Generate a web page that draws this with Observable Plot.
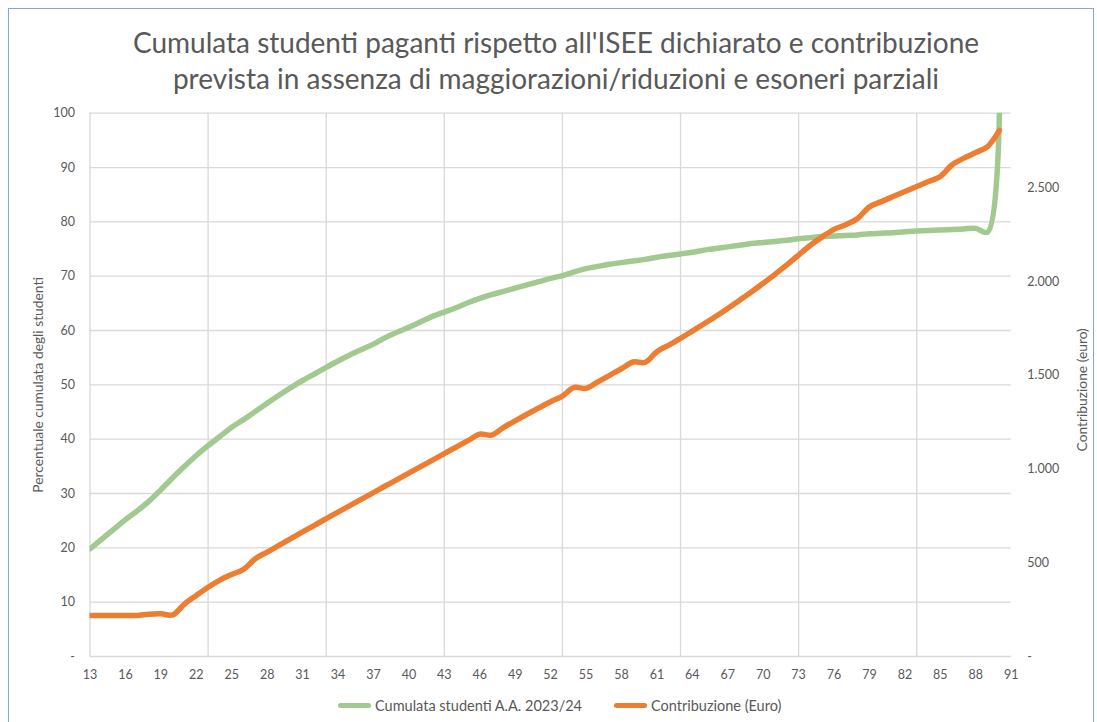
<!DOCTYPE html>
<html>
<head>
<meta charset="utf-8">
<script src="https://cdn.jsdelivr.net/npm/d3@7"></script>
<script src="https://cdn.jsdelivr.net/npm/@observablehq/plot@0.6"></script>
<style>
  html, body { margin: 0; padding: 0; background: #fff; }
  #wrap { position: relative; width: 1097px; height: 722px; overflow: hidden; font-family: Lato, "Open Sans", sans-serif; }
  #border { position: absolute; left: 8px; top: 8px; width: 1086px; height: 730px; border: 1px solid #7fa8dc; box-sizing: border-box; }
  #title { position: absolute; left: 0; width: 1112px; top: 24px; text-align: center; font-size: 28px; line-height: 36px; color: #595959; }
  #chart { position: absolute; left: 0; top: 0; }
  .leg { position: absolute; top: 695px; font-size: 14.5px; color: #595959; display: flex; align-items: center; height: 20px; }
  .sw { display: inline-block; width: 33px; height: 5px; border-radius: 3px; margin-right: 4px; }
</style>
</head>
<body>
<div id="wrap">
  <div id="border"></div>
  <div id="title">Cumulata studenti paganti rispetto all'ISEE dichiarato e contribuzione<br>prevista in assenza di maggiorazioni/riduzioni e esoneri parziali</div>
  <div id="chart"></div>
  <div class="leg" style="left:338px"><span class="sw" style="background:#a2c98f"></span>Cumulata studenti A.A. 2023/24</div>
  <div class="leg" style="left:614px"><span class="sw" style="background:#ed7d31"></span>Contribuzione (Euro)</div>
</div>
<script>
// ISEE categories (thousands of euro)
const isee = [13,14,15,16,17,18,19,20,21,22,23,24,25,26,27,28,29,30,31,32,33,34,35,36,37,38,39,40,41,42,43,44,45,46,47,48,49,50,51,52,53,54,55,56,57,58,59,60,61,62,63,64,65,66,67,68,69,70,71,72,73,74,75,76,77,78,79,80,81,82,83,84,85,86,87,88,89,90];
// Cumulative percentage of paying students (left axis)
const cumulata = [19.8,21.6,23.4,25.2,26.8,28.6,30.7,32.9,35.0,37.0,38.8,40.5,42.2,43.6,45.1,46.6,48.1,49.5,50.8,52.0,53.2,54.4,55.5,56.5,57.5,58.7,59.7,60.6,61.6,62.6,63.4,64.2,65.1,65.9,66.6,67.2,67.8,68.4,69.0,69.6,70.1,70.8,71.4,71.8,72.2,72.5,72.8,73.1,73.5,73.8,74.1,74.4,74.8,75.1,75.4,75.7,76.0,76.2,76.4,76.6,76.9,77.1,77.3,77.4,77.5,77.6,77.8,77.9,78.0,78.2,78.3,78.4,78.5,78.6,78.7,78.8,78.1,100];
// Contribution in euro (right axis)
const contribuzione = [219,219,219,219,219,226,228,222,280,326,370,408,438,465,522,557,593,629,665,700,736,771,805,840,875,910,944,979,1014,1048,1083,1118,1152,1187,1182,1222,1258,1293,1327,1360,1390,1436,1431,1466,1501,1536,1572,1570,1627,1662,1698,1737,1776,1816,1858,1902,1946,1992,2040,2090,2143,2195,2240,2280,2305,2338,2400,2428,2455,2482,2509,2535,2562,2625,2660,2690,2722,2808];

const xTickLabels = [13,16,19,22,25,28,31,34,37,40,43,46,49,52,55,58,61,64,67,70,73,76,79,82,85,88,91];
const xGrid = [13,23,33,43,53,63,73,83];
const leftTicks = [0,10,20,30,40,50,60,70,80,90,100];
const rightTicks = [0,500,1000,1500,2000,2500];
const euroMax = 2900;

const toLeft = e => e * 100 / euroMax;
const itFmt = n => n === 0 ? "-" : String(n).replace(/\B(?=(\d{3})+$)/g, ".");

const data = isee.map((x, i) => ({x, g: cumulata[i], o: toLeft(contribuzione[i])}));

const chart = Plot.plot({
  width: 1097,
  height: 700,
  marginLeft: 89.5,
  marginRight: 86.3,
  marginTop: 112.7,
  marginBottom: 44,
  x: {domain: [13, 91]},
  y: {domain: [0, 100]},
  style: {fontFamily: "Lato, 'Open Sans', sans-serif", fontSize: "12.5px", color: "#595959", background: "transparent", overflow: "visible"},
  marks: [
    Plot.ruleY(leftTicks, {stroke: "#d9d9d9", strokeWidth: 1.3, strokeOpacity: 1}),
    Plot.ruleX(xGrid, {stroke: "#d9d9d9", strokeWidth: 1.3, strokeOpacity: 1}),
    Plot.axisY({ticks: leftTicks, tickSize: 0, tickPadding: 15, tickFormat: itFmt, label: null, fill: "#595959"}),
    Plot.axisY({anchor: "right", ticks: rightTicks.map(toLeft), tickSize: 0, tickPadding: 16, textAnchor: "start",
      tickFormat: (d, i) => itFmt(rightTicks[i]), label: null, fill: "#595959"}),
    Plot.axisX({ticks: xTickLabels, tickSize: 0, tickPadding: 14, tickFormat: d => String(d), label: null, fill: "#595959"}),
    Plot.text(["Percentuale cumulata degli studenti"], {frameAnchor: "left", dx: -51.5, rotate: -90, textAnchor: "middle", fill: "#595959", fontSize: 13.8}),
    Plot.text(["Contribuzione (euro)"], {frameAnchor: "right", dx: 71, dy: 5, rotate: -90, textAnchor: "middle", fill: "#595959", fontSize: 13.8}),
    Plot.line(data, {x: "x", y: "g", stroke: "#a2c98f", strokeWidth: 5.5, curve: "catmull-rom", clip: true, strokeLinecap: "round", strokeLinejoin: "round"}),
    Plot.line(data, {x: "x", y: "o", stroke: "#ed7d31", strokeWidth: 5.5, curve: "catmull-rom", clip: true, strokeLinecap: "round", strokeLinejoin: "round"})
  ]
});
document.getElementById("chart").appendChild(chart);
</script>
</body>
</html>
